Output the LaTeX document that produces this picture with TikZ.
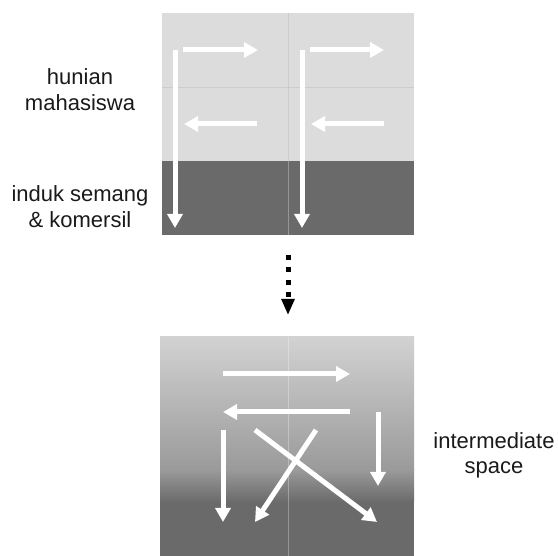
\documentclass[tikz,border=0pt]{standalone}
\usepackage{fontspec}
\setmainfont{Liberation Sans}
\usetikzlibrary{arrows.meta}
\definecolor{lightpanel}{HTML}{DCDCDC}
\definecolor{darkpanel}{HTML}{6A6A6A}
\definecolor{gradtop}{HTML}{D2D2D2}
\definecolor{gradmid}{HTML}{9A9A9A}
\definecolor{textgray}{HTML}{1A1A1A}
\begin{document}
\begin{tikzpicture}[x=1pt,y=-1pt,
  flow/.style={draw=white, line width=5pt, -{Triangle[width=15pt,length=14pt]}},
  dotflow/.style={draw=black, line width=5pt, dash pattern=on 5pt off 7.5pt, -{Triangle[width=12.5pt,length=16pt]}},
  divdark/.style={draw=black, opacity=0.07, line width=0.8pt},
  divlight/.style={draw=white, opacity=0.3, line width=0.8pt},
  lbl/.style={font=\fontsize{22}{25.5}\selectfont, align=center, text=textgray}]
\useasboundingbox (0,0) rectangle (558,556);
% top panel
\fill[lightpanel] (162,13) rectangle (414,161);
\fill[darkpanel] (162,161) rectangle (414,235);
\draw[divdark] (288,13) -- (288,161);
\draw[divdark] (162,87) -- (414,87);
\draw[divlight] (288,161) -- (288,235);
% bottom panel
\shade[top color=gradtop, bottom color=gradmid] (160,337) rectangle (414,470);
\shade[top color=gradmid, bottom color=darkpanel] (160,470) rectangle (414,502);
\fill[darkpanel] (160,502) rectangle (414,556);
\draw[divlight] (288,337) -- (288,556);
% labels
\node[lbl] (hm) at (80,89.5) {hunian\\mahasiswa};
\node[lbl] (ik) at (80,206.5) {induk semang\\\& komersil};
\node[lbl] (is) at (494,455.5) {intermediate\\space};
% top arrows
\coordinate (a1s) at (175,50); \coordinate (a1e) at (175,228);
\coordinate (a2s) at (183,50); \coordinate (a2e) at (258,50);
\coordinate (a3s) at (257,124); \coordinate (a3e) at (184,124);
\coordinate (b1s) at (302,50); \coordinate (b1e) at (302,228);
\coordinate (b2s) at (310,50); \coordinate (b2e) at (384,50);
\coordinate (b3s) at (384,124); \coordinate (b3e) at (311,124);
\draw[flow] (a1s) -- (a1e);
\draw[flow] (a2s) -- (a2e);
\draw[flow] (a3s) -- (a3e);
\draw[flow] (b1s) -- (b1e);
\draw[flow] (b2s) -- (b2e);
\draw[flow] (b3s) -- (b3e);
% transition arrow
\coordinate (ts) at (288,255); \coordinate (te) at (288,315);
\draw[dotflow] (ts) -- (te);
% bottom arrows
\coordinate (c1s) at (223,374); \coordinate (c1e) at (350,374);
\coordinate (c2s) at (350,412); \coordinate (c2e) at (223,412);
\coordinate (c3s) at (378,412); \coordinate (c3e) at (378,486);
\coordinate (c4s) at (223,430); \coordinate (c4e) at (223,522);
\coordinate (c5s) at (316,430); \coordinate (c5e) at (255,522);
\coordinate (c6s) at (255,430); \coordinate (c6e) at (377,522);
\draw[flow] (c1s) -- (c1e);
\draw[flow] (c2s) -- (c2e);
\draw[flow] (c3s) -- (c3e);
\draw[flow] (c4s) -- (c4e);
\draw[flow] (c5s) -- (c5e);
\draw[flow] (c6s) -- (c6e);
\end{tikzpicture}
\end{document}
